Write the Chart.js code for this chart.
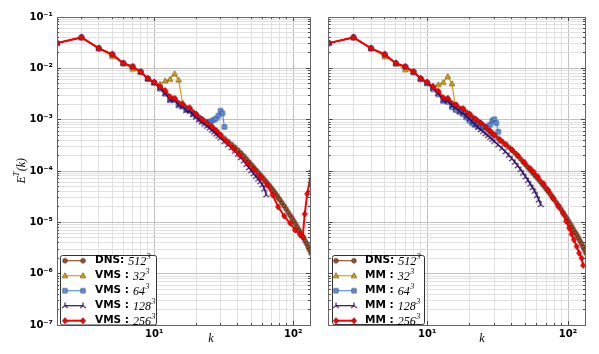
<!DOCTYPE html>
<html>
<head>
<meta charset="utf-8">
<script src="https://cdn.jsdelivr.net/npm/chart.js@4.4.0/dist/chart.umd.min.js"></script>
<style>
  body { margin: 0; background: #fff; }
  #wrap { position: relative; width: 599px; height: 354px; }
  canvas { position: absolute; top: 0; }
</style>
</head>
<body>
<div id="wrap">
  <canvas id="left" width="316" height="354" style="left:0"></canvas>
  <canvas id="right" width="283" height="354" style="left:316px"></canvas>
</div>
<script>
// ---- data ----
var kDNS = [2,3,4,5,6,7,8,9,10,11,12,13,14,15,16,17,18,19,20,21,22,23,24,25,26,27,28,29,30,
  32,34,36,38,40,42,44,46,48,50,52,54,56,58,60,62,64,66,68,70,72,74,76,78,80,
  83,86,89,92,95,98,101,104,107,110,113,116,119,122,125,128,131,134];
var eDNS = [3.1e-2,4.0e-2,2.45e-2,1.87e-2,1.25e-2,1.08e-2,8.6e-3,6.3e-3,5.3e-3,4.2e-3,3.4e-3,2.5e-3,2.55e-3,2.05e-3,1.95e-3,1.65e-3,1.6e-3,1.4e-3,1.28e-3,1.12e-3,1.02e-3,9.3e-4,8.5e-4,7.8e-4,7.1e-4,6.5e-4,5.9e-4,5.4e-4,5.0e-4,
  4.3e-4,3.75e-4,3.3e-4,2.9e-4,2.55e-4,2.25e-4,1.97e-4,1.72e-4,1.5e-4,1.32e-4,1.17e-4,1.04e-4,9.3e-5,8.3e-5,7.5e-5,6.8e-5,6.1e-5,5.5e-5,5.0e-5,4.5e-5,4.1e-5,3.7e-5,3.35e-5,3.0e-5,2.75e-5,
  2.4e-5,2.08e-5,1.8e-5,1.56e-5,1.36e-5,1.2e-5,1.05e-5,9.2e-6,8.0e-6,7.0e-6,6.2e-6,5.5e-6,4.9e-6,4.3e-6,3.8e-6,3.3e-6,2.9e-6,2.5e-6];

var k32 = [2,3,4,5,6,7,8,9,10,11,12,13,14,15,16];
var k64 = [2,3,4,5,6,7,8,9,10,11,12,13,14,15,16,17,18,19,20,21,22,23,24,25,26,27,28,29,30,31,32];
var k128 = [2,3,4,5,6,7,8,9,10,11,12,13,14,15,16,17,18,19,20,21,22,23,24,25,26,27,28,29,30,
  32,34,36,38,40,42,44,46,48,50,52,54,56,58,60,62,64];

// left panel: VMS
var eVMS32 = [3.1e-2,4.0e-2,2.45e-2,1.7e-2,1.25e-2,9.6e-3,8.4e-3,6.3e-3,5.4e-3,4.9e-3,5.7e-3,6.1e-3,7.8e-3,5.9e-3,2.1e-3];
var eVMS64 = [3.1e-2,4.0e-2,2.45e-2,1.85e-2,1.25e-2,1.07e-2,8.5e-3,6.2e-3,5.2e-3,4.0e-3,3.2e-3,2.4e-3,2.4e-3,1.9e-3,1.8e-3,1.55e-3,1.5e-3,1.3e-3,1.18e-3,1.05e-3,9.6e-4,9.1e-4,9.0e-4,9.1e-4,9.5e-4,1.0e-3,1.06e-3,1.2e-3,1.5e-3,1.33e-3,7.2e-4];
var eVMS128 = [3.1e-2,4.0e-2,2.45e-2,1.86e-2,1.25e-2,1.07e-2,8.5e-3,6.2e-3,5.2e-3,4.1e-3,3.2e-3,2.4e-3,2.4e-3,1.9e-3,1.78e-3,1.5e-3,1.45e-3,1.25e-3,1.12e-3,9.8e-4,8.9e-4,8.1e-4,7.4e-4,6.8e-4,6.2e-4,5.7e-4,5.2e-4,4.75e-4,4.35e-4,
  3.7e-4,3.2e-4,2.8e-4,2.4e-4,2.1e-4,1.8e-4,1.55e-4,1.33e-4,1.15e-4,1.0e-4,8.8e-5,7.8e-5,6.9e-5,6.1e-5,5.3e-5,4.4e-5,3.4e-5];
var kVMS256 = [2,3,4,5,6,7,8,9,10,11,12,13,14,16,18,20,22,24,26,28,30,33,37,41,47,52,58,65,71,78,86,95,103,112,117,121,126,136];
var eVMS256 = [3.1e-2,4.0e-2,2.45e-2,1.87e-2,1.26e-2,1.08e-2,8.6e-3,6.4e-3,5.4e-3,4.4e-3,3.7e-3,2.8e-3,2.6e-3,
  2.0e-3,1.72e-3,1.28e-3,1.02e-3,8.6e-4,7.3e-4,6.1e-4,5.0e-4,
  3.75e-4,2.75e-4,2.05e-4,1.41e-4,1.08e-4,7.75e-5,5.3e-5,3.4e-5,2.0e-5,1.33e-5,9.6e-6,7.1e-6,5.7e-6,5.2e-6,1.45e-5,3.6e-5,1.0e-4];

// right panel: MM
var eMM32 = [3.1e-2,4.0e-2,2.45e-2,1.68e-2,1.24e-2,9.4e-3,8.3e-3,6.2e-3,5.3e-3,4.5e-3,4.8e-3,5.3e-3,6.9e-3,5.0e-3,1.55e-3];
var eMM64 = [3.1e-2,4.0e-2,2.45e-2,1.84e-2,1.24e-2,1.06e-2,8.4e-3,6.1e-3,5.1e-3,3.9e-3,3.1e-3,2.3e-3,2.2e-3,1.75e-3,1.55e-3,1.4e-3,1.28e-3,1.1e-3,9.5e-4,8.4e-4,7.8e-4,7.4e-4,7.2e-4,7.1e-4,7.2e-4,7.4e-4,8.0e-4,9.6e-4,1.02e-3,8.6e-4,5.8e-4];
var eMM128 = [3.1e-2,4.0e-2,2.45e-2,1.86e-2,1.25e-2,1.07e-2,8.5e-3,6.2e-3,5.1e-3,4.1e-3,3.2e-3,2.35e-3,2.3e-3,1.85e-3,1.68e-3,1.43e-3,1.33e-3,1.15e-3,1.02e-3,8.9e-4,7.9e-4,7.0e-4,6.3e-4,5.8e-4,5.3e-4,4.85e-4,4.45e-4,4.1e-4,3.75e-4,
  3.2e-4,2.75e-4,2.35e-4,2.0e-4,1.72e-4,1.47e-4,1.25e-4,1.06e-4,9.0e-5,7.6e-5,6.5e-5,5.5e-5,4.7e-5,4.0e-5,3.3e-5,2.7e-5,2.2e-5];
var kMM256 = [2,3,4,5,6,7,8,9,10,11,12,13,14,16,18,20,22,24,26,28,30,33,36,40,44,49,54,57,61,67,72,78,85,92,97,102,106,110,115,120,125,128];
var eMM256 = [3.1e-2,4.0e-2,2.45e-2,1.87e-2,1.26e-2,1.08e-2,8.6e-3,6.4e-3,5.4e-3,4.4e-3,3.6e-3,2.7e-3,2.6e-3,
  1.95e-3,1.65e-3,1.28e-3,1.03e-3,8.6e-4,7.2e-4,6.0e-4,5.05e-4,
  4.0e-4,3.3e-4,2.6e-4,2.0e-4,1.48e-4,1.12e-4,9.6e-5,7.8e-5,5.7e-5,4.3e-5,3.0e-5,2.05e-5,1.5e-5,1.05e-5,7.7e-6,5.9e-6,4.6e-6,3.4e-6,2.5e-6,2.0e-6,1.45e-6];

// legend texts
var resolutions = ['512', '32', '64', '128', '256'];
// axis ticks
var xMinorTicks = [2,3,4,5,6,7,8,9,20,30,40,50,60,70,80,90];
var xLabelValues = [10, 100];
var xLabelText = ['10\u00b9', '10\u00b2'];
var yLabelValues = [1e-7, 1e-6, 1e-5, 1e-4, 1e-3, 1e-2, 1e-1];
var yLabelText = ['10\u207b\u2077', '10\u207b\u2076', '10\u207b\u2075', '10\u207b\u2074', '10\u207b\u00b3', '10\u207b\u00b2', '10\u207b\u00b9'];

// ---- styles ----
var cDNS = '#9c5330', cG = '#d9a21b', cB = '#5f93dc', cP = '#2f0b62', cR = '#ff0000';

function makeMarker(shape, fill, edge) {
  var s = 8, c = document.createElement('canvas');
  c.width = s; c.height = s;
  var g = c.getContext('2d');
  g.translate(s / 2, s / 2);
  g.fillStyle = fill; g.strokeStyle = edge; g.lineWidth = 0.7;
  g.beginPath();
  if (shape === 'circle') g.arc(0, 0, 2.3, 0, Math.PI * 2);
  if (shape === 'triangle') { g.moveTo(0, -3); g.lineTo(2.8, 2); g.lineTo(-2.8, 2); g.closePath(); }
  if (shape === 'square') g.rect(-2.2, -2.2, 4.4, 4.4);
  if (shape === 'diamond') { g.moveTo(0, -3); g.lineTo(2.6, 0); g.lineTo(0, 3); g.lineTo(-2.6, 0); g.closePath(); }
  if (shape === 'tri') {
    g.moveTo(0, 0); g.lineTo(0, -3.3);
    g.moveTo(0, 0); g.lineTo(-3, 2.1);
    g.moveTo(0, 0); g.lineTo(3, 2.1);
    g.lineWidth = 1.1; g.stroke();
  } else { g.fill(); g.stroke(); }
  return c;
}
var mDNS = makeMarker('circle', cDNS, '#3d1c0c');
var mG = makeMarker('triangle', cG, '#6a4e08');
var mB = makeMarker('square', cB, '#2b4c85');
var mP = makeMarker('tri', cP, cP);
var mR = makeMarker('diamond', cR, '#a00000');

function series(word, res, ks, es, color, marker, width, order) {
  return {
    label: word + ' ' + res,
    legendWord: word, legendNum: res,
    data: ks.map(function (k, i) { return { x: k, y: es[i] }; }),
    showLine: true,
    borderColor: color,
    backgroundColor: color,
    borderWidth: width,
    pointStyle: marker,
    pointRadius: 3,
    order: order
  };
}

// ---- plugins ----
var framePlugin = {
  id: 'frame',
  afterDatasetsDraw: function (chart) {
    var a = chart.chartArea, ctx = chart.ctx, xs = chart.scales.x, ys = chart.scales.y;
    ctx.save();
    ctx.strokeStyle = '#444'; ctx.lineWidth = 1;
    ctx.beginPath();
    xs.ticks.forEach(function (t) {
      var p = Math.round(xs.getPixelForValue(t.value) - 0.5) + 0.5, len = t.major ? 4 : 2;
      ctx.moveTo(p, a.bottom); ctx.lineTo(p, a.bottom - len);
      ctx.moveTo(p, a.top); ctx.lineTo(p, a.top + len);
    });
    ys.ticks.forEach(function (t) {
      var p = Math.round(ys.getPixelForValue(t.value) - 0.5) + 0.5, len = t.major ? 4 : 2;
      ctx.moveTo(a.left, p); ctx.lineTo(a.left + len, p);
      ctx.moveTo(a.right, p); ctx.lineTo(a.right - len, p);
    });
    ctx.stroke();
    ctx.strokeStyle = '#666';
    var l = Math.round(a.left - 0.5) + 0.5, t = Math.round(a.top - 0.5) + 0.5;
    var r = Math.round(a.right - 0.5) + 0.5, b = Math.round(a.bottom - 0.5) + 0.5;
    ctx.strokeRect(l, t, r - l, b - t);
    ctx.restore();
  }
};

function legendPlugin(box) {
  return {
    id: 'legendBox',
    afterDraw: function (chart) {
      var ctx = chart.ctx;
      ctx.save();
      ctx.beginPath();
      if (ctx.roundRect) ctx.roundRect(box.x, box.y, box.w, box.h, 2); else ctx.rect(box.x, box.y, box.w, box.h);
      ctx.fillStyle = '#fff'; ctx.fill();
      ctx.strokeStyle = '#333'; ctx.lineWidth = 1; ctx.stroke();
      chart.data.datasets.forEach(function (d, i) {
        var y = box.first + i * box.step;
        ctx.strokeStyle = d.borderColor; ctx.lineWidth = d.borderWidth;
        ctx.beginPath(); ctx.moveTo(box.m0, y); ctx.lineTo(box.m1, y); ctx.stroke();
        [box.m0, box.m1].forEach(function (x) {
          ctx.drawImage(d.pointStyle, x - d.pointStyle.width / 2, y - d.pointStyle.height / 2);
        });
        ctx.fillStyle = '#000';
        ctx.textBaseline = 'middle'; ctx.textAlign = 'left';
        ctx.font = 'bold 10.5px "DejaVu Sans"';
        ctx.fillText(d.legendWord, box.tx, y);
        var x = box.tx + ctx.measureText(d.legendWord).width + 4;
        ctx.font = 'italic 12px "Liberation Serif"';
        ctx.fillText(d.legendNum, x, y + 1);
        x += ctx.measureText(d.legendNum).width + 0.5;
        ctx.font = 'italic 8px "Liberation Serif"';
        ctx.fillText('3', x, y - 3.5);
      });
      ctx.restore();
    }
  };
}

function labelPlugin(kx, withYLabel) {
  return {
    id: 'axisLabels',
    afterDraw: function (chart) {
      var ctx = chart.ctx;
      ctx.save();
      ctx.fillStyle = '#000';
      ctx.textBaseline = 'middle'; ctx.textAlign = 'center';
      ctx.font = 'italic 12px "Liberation Serif"';
      ctx.fillText('k', kx, 339);
      if (withYLabel) {
        ctx.translate(21, 171);
        ctx.rotate(-Math.PI / 2);
        ctx.textAlign = 'left';
        var wE = ctx.measureText('E').width, wK = ctx.measureText('(k)').width;
        ctx.font = 'italic 8px "Liberation Serif"';
        var wT = ctx.measureText('T').width;
        var x0 = -(wE + wT + wK) / 2;
        ctx.font = 'italic 12px "Liberation Serif"';
        ctx.fillText('E', x0, 1);
        ctx.fillText('(k)', x0 + wE + wT + 0.5, 1);
        ctx.font = 'italic 8px "Liberation Serif"';
        ctx.fillText('T', x0 + wE, -4);
      }
      ctx.restore();
    }
  };
}

// ---- scales ----
function gridColor(c) { return c.tick && c.tick.major ? '#c2c2c2' : '#e1e1e1'; }
var tickFont = { family: '"DejaVu Sans"', size: 10, weight: 'bold' };

function xScale() {
  return {
    type: 'logarithmic', min: 2, max: 132,
    afterBuildTicks: function (scale) {
      var t = xMinorTicks.map(function (v) { return { value: v, major: false }; });
      xLabelValues.forEach(function (v) { t.push({ value: v, major: true }); });
      t.sort(function (a, b) { return a.value - b.value; });
      scale.ticks = t;
    },
    afterFit: function (scale) { scale.height = 29; },
    ticks: {
      autoSkip: false, maxRotation: 0, minRotation: 0, padding: 3, color: '#000', font: tickFont,
      callback: function (v) { var i = xLabelValues.indexOf(v); return i >= 0 ? xLabelText[i] : ''; }
    },
    grid: { color: gridColor, drawTicks: false },
    border: { display: false }
  };
}

function yScale(width, showLabels) {
  return {
    type: 'logarithmic', min: 1e-7, max: 1e-1,
    afterBuildTicks: function (scale) {
      var t = [];
      yLabelValues.forEach(function (d, i) {
        t.push({ value: d, major: true });
        if (i < yLabelValues.length - 1) {
          for (var m = 2; m <= 9; m++) t.push({ value: +(m * d).toPrecision(2), major: false });
        }
      });
      scale.ticks = t;
    },
    afterFit: function (scale) { scale.width = width; },
    ticks: {
      display: showLabels, autoSkip: false, padding: 4, color: '#000', font: tickFont,
      callback: function (v) { var i = yLabelValues.indexOf(v); return i >= 0 ? yLabelText[i] : ''; }
    },
    grid: { color: gridColor, drawTicks: false },
    border: { display: false }
  };
}

function panel(id, datasets, yWidth, showY, padRight, legendBox, kx) {
  return new Chart(document.getElementById(id).getContext('2d'), {
    type: 'scatter',
    data: { datasets: datasets },
    options: {
      responsive: false, animation: false, devicePixelRatio: 1,
      layout: { padding: { top: 17, right: padRight, left: 0, bottom: 0 } },
      plugins: { legend: { display: false }, tooltip: { enabled: false } },
      scales: { x: xScale(), y: yScale(yWidth, showY) }
    },
    plugins: [framePlugin, legendPlugin(legendBox), labelPlugin(kx, showY)]
  });
}

panel('left', [
  series('DNS:', resolutions[0], kDNS, eDNS, cDNS, mDNS, 1.2, 5),
  series('VMS :', resolutions[1], k32, eVMS32, cG, mG, 1.2, 4),
  series('VMS :', resolutions[2], k64, eVMS64, cB, mB, 1.2, 3),
  series('VMS :', resolutions[3], k128, eVMS128, cP, mP, 1.2, 2),
  series('VMS :', resolutions[4], kVMS256, eVMS256, cR, mR, 2, 1)
], 57, true, 2.7, { x: 60.5, y: 255.5, w: 96, h: 69.5, first: 260.7, step: 15, m0: 65, m1: 83, tx: 95 }, 211);

panel('right', [
  series('DNS:', resolutions[0], kDNS, eDNS, cDNS, mDNS, 1.2, 5),
  series('MM :', resolutions[1], k32, eMM32, cG, mG, 1.2, 4),
  series('MM :', resolutions[2], k64, eMM64, cB, mB, 1.2, 3),
  series('MM :', resolutions[3], k128, eMM128, cP, mP, 1.2, 2),
  series('MM :', resolutions[4], kMM256, eMM256, cR, mR, 2, 1)
], 12.7, false, 14, { x: 16.5, y: 255.5, w: 92, h: 69, first: 260.7, step: 15, m0: 20, m1: 38, tx: 49 }, 166);
</script>
</body>
</html>
